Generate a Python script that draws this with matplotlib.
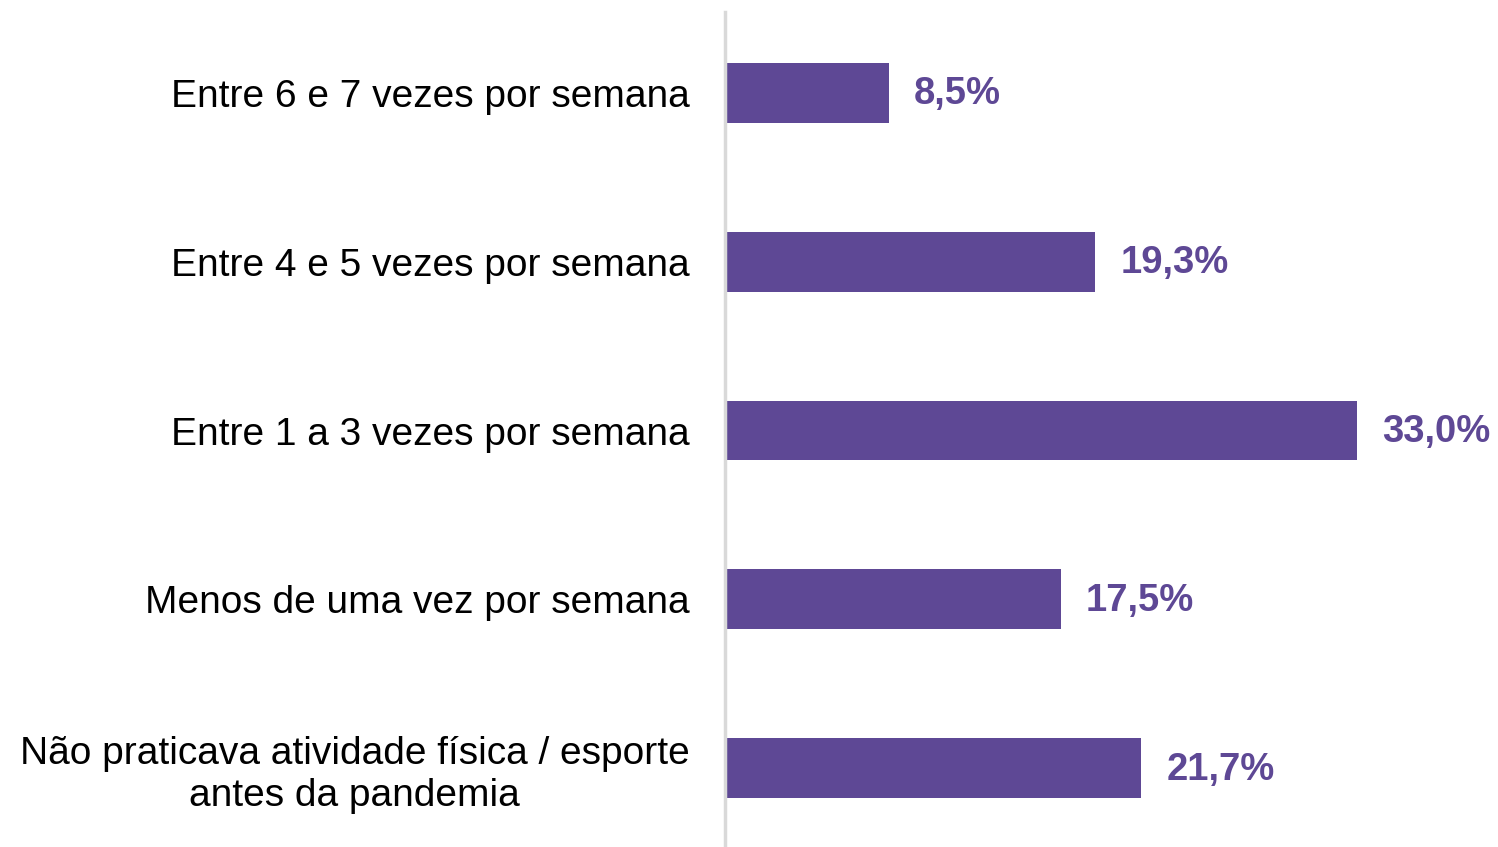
import matplotlib
matplotlib.use("Agg")
import matplotlib.pyplot as plt

categories = [
    "Entre 6 e 7 vezes por semana",
    "Entre 4 e 5 vezes por semana",
    "Entre 1 a 3 vezes por semana",
    "Menos de uma vez por semana",
    "Não praticava atividade física / esporte\nantes da pandemia",
]
values = [8.5, 19.3, 33.0, 17.5, 21.7]
value_labels = ["8,5%", "19,3%", "33,0%", "17,5%", "21,7%"]

BAR_COLOR = "#5e4895"
AXIS_COLOR = "#d9d9d9"

plt.rcParams['font.family'] = ['Liberation Sans', 'DejaVu Sans']

fig = plt.figure(figsize=(14.98, 8.47), dpi=100)
ax = fig.add_axes([727 / 1498, 0, 1 - 727 / 1498, 1])

pos = list(range(len(categories)))
ax.barh(pos, values, height=0.355, color=BAR_COLOR)

for p, v, lab in zip(pos, values, value_labels):
    ax.annotate(lab, (v, p), xytext=(18, -1), textcoords='offset points',
                ha='left', va='center', fontsize=27.5, fontweight='bold', color=BAR_COLOR)

ax.set_xlim(0, 40.4)
ax.set_ylim(4.467, -0.55)

ax.set_yticks(pos)
ax.set_yticklabels(categories, fontsize=28, multialignment='center', linespacing=1.2)
ax.tick_params(axis='y', length=0, pad=27)
ax.set_xticks([])

for s in ['top', 'right', 'bottom', 'left']:
    ax.spines[s].set_visible(False)
# vertical axis line, starting a little below the top edge
ax.axvline(-0.1, ymin=0, ymax=1 - 12 / 847, color=AXIS_COLOR, linewidth=2.5, clip_on=False)

fig.savefig("out.png", dpi=100)
